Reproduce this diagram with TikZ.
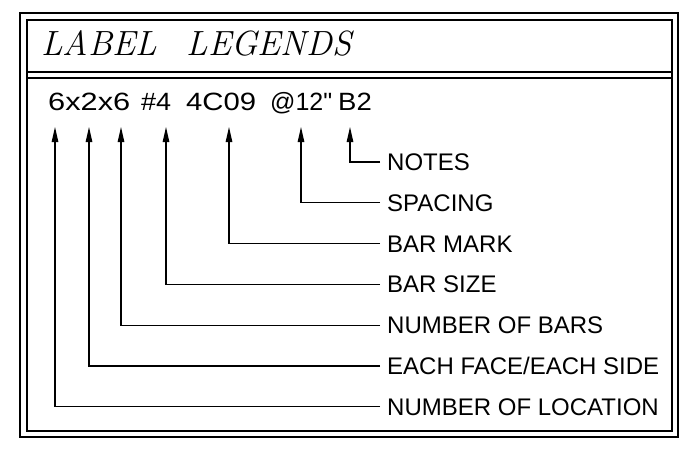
\documentclass[tikz,border=0pt]{standalone}
\usepackage{fontspec}
\usepackage{graphicx}
\newfontfamily\cadfont{Liberation Sans}
\newcommand{\cadwide}[2][1.15]{\scalebox{#1}[1]{#2}}
\tikzstyle{leader} = [line width=1.1pt, -{Triangle[length=15pt,width=6.5pt]}]
\tikzstyle{frame} = [line width=1.4pt]
\usetikzlibrary{arrows.meta}
\usetikzlibrary{positioning}

\begin{document}
\begin{tikzpicture}[x=1pt, y=-1pt,
                      node distance=40.8pt,
                      title node/.style={font=\fontsize{35}{40}\selectfont\itshape, inner sep=0pt, anchor=base west},
                      code node/.style={font=\cadfont\fontsize{25}{30}\selectfont, inner sep=0pt, anchor=base west},
                      label node/.style={font=\cadfont\fontsize{24}{28}\selectfont, inner xsep=7pt, inner ysep=0pt,
                                         text height=17pt, text depth=0pt}]
        \useasboundingbox (0,0) rectangle (694,463);

        % border and title strip
        \draw[frame] (20,13) rectangle (678,437);
        \draw[frame] (27,20) rectangle (672,431);
        \draw[frame] (27,72) -- (672,72);
        \draw[frame] (27,78) -- (672,78);

        \node[title node] (0) at (41,56) {LABEL\hspace{0.85em}LEGENDS};

        % the bar label itself
        \node[code node] (c1) at (48,110) {\cadwide[1.23]{6x2x6}};
        \node[code node] (c2) at (141,110) {\cadwide[1.08]{\#4}};
        \node[code node] (c3) at (186,110) {\cadwide[1.17]{4C09}};
        \node[code node] (c4) at (270,110) {\cadwide[1.0]{@12"}};
        \node[code node] (c5) at (338,110) {\cadwide[1.1]{B2}};

        % arrow tips under the code
        \coordinate (t1) at (55,127);
        \coordinate (t2) at (89,127);
        \coordinate (t3) at (121,127);
        \coordinate (t4) at (166,127);
        \coordinate (t5) at (229,127);
        \coordinate (t6) at (301,127);
        \coordinate (t7) at (350,127);

        \node[label node, anchor=west] (1) at (380,162) {NOTES};
        \node[label node] (2) [below=of 1.west, anchor=west] {SPACING};
        \node[label node] (3) [below=of 2.west, anchor=west] {BAR MARK};
        \node[label node] (4) [below=of 3.west, anchor=west] {BAR SIZE};
        \node[label node] (5) [below=of 4.west, anchor=west] {NUMBER OF BARS};
        \node[label node] (6) [below=of 5.west, anchor=west] {EACH FACE/EACH SIDE};
        \node[label node] (7) [below=of 6.west, anchor=west] {NUMBER OF LOCATION};

        \path[leader, to path={-| (\tikztotarget)}]
        (1.west) edge (t7)
        (2.west) edge (t6)
        (3.west) edge (t5)
        (4.west) edge (t4)
        (5.west) edge (t3)
        (6.west) edge (t2)
        (7.west) edge (t1)
        ;
    \end{tikzpicture}
\end{document}
